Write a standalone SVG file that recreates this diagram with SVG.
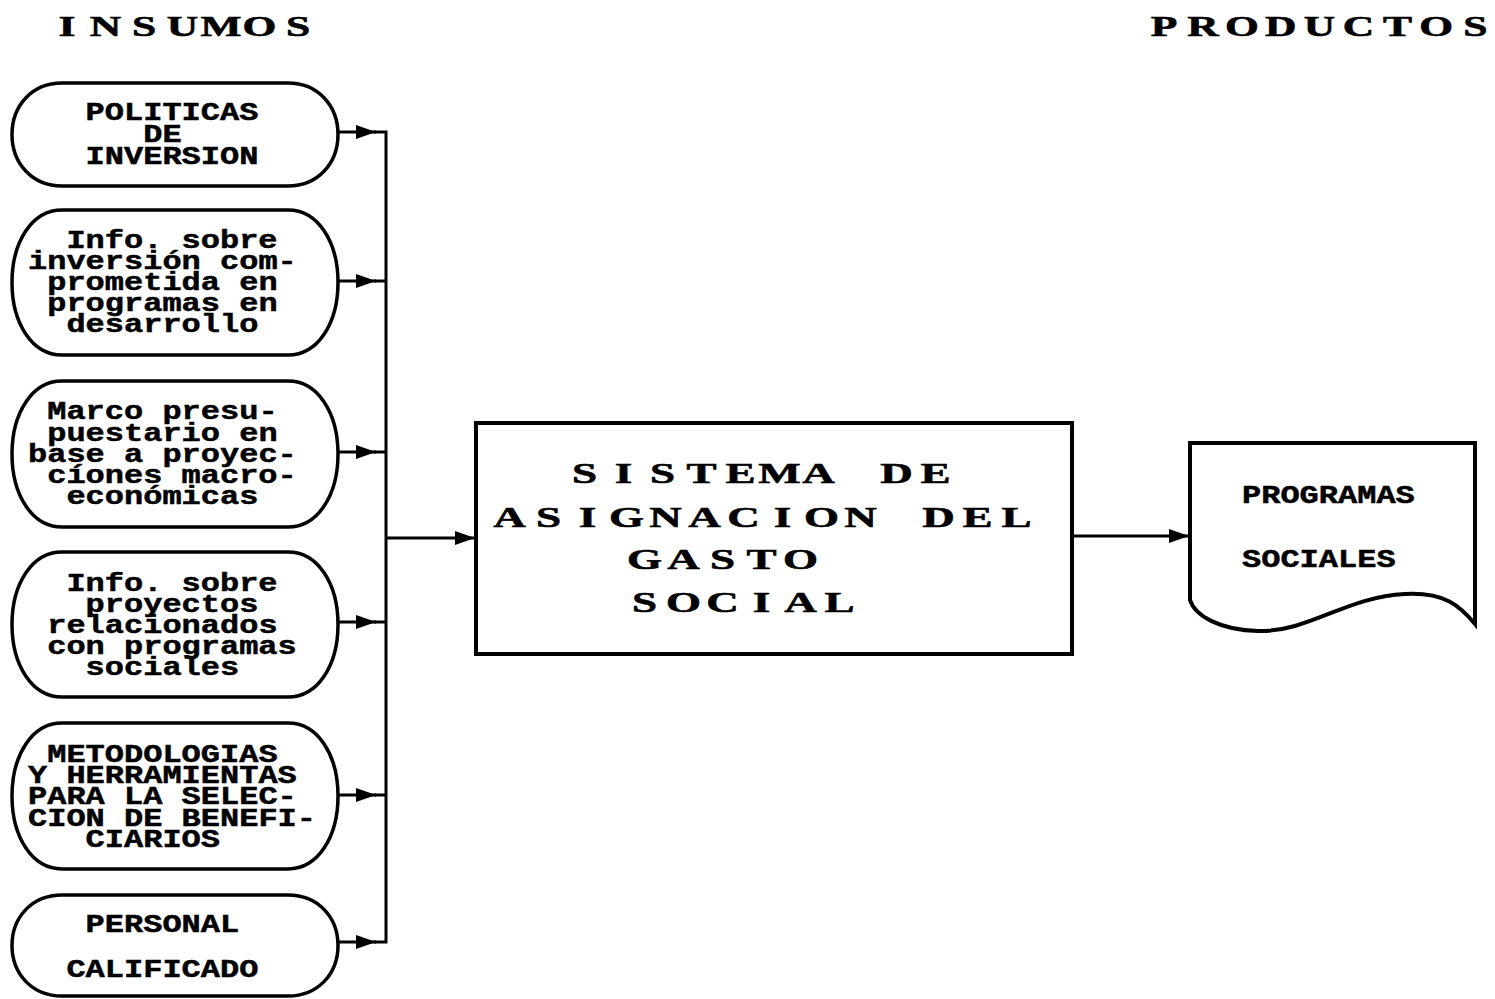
<svg xmlns="http://www.w3.org/2000/svg" width="1495" height="999" viewBox="0 0 1495 999">
<style>
.bg{fill:#fff}
.node{fill:#fff;stroke:#000;stroke-width:3.5;stroke-linejoin:round}
.box{fill:#fff;stroke:#000;stroke-width:4}
.t{font-family:"Liberation Mono","DejaVu Sans Mono",monospace;font-weight:bold;font-size:26px;fill:#000;stroke:#000;stroke-width:0.5}
.big{font-family:"Liberation Serif","DejaVu Serif",serif;font-weight:bold;font-size:30px;fill:#000;stroke:#000;stroke-width:0.6;text-anchor:middle}
.hdr{font-family:"Liberation Serif","DejaVu Serif",serif;font-weight:bold;font-size:29px;fill:#000;stroke:#000;stroke-width:0.6;text-anchor:middle}
.c{fill:none;stroke:#000;stroke-width:3}
</style>
<defs>
<marker id="ah" markerUnits="userSpaceOnUse" markerWidth="22" markerHeight="18" refX="20" refY="9" orient="auto">
<path d="M0,2 L20,9 L0,16 Z" fill="#000"/>
</marker>
</defs>
<rect class="bg" x="0" y="0" width="1495" height="999"/>

<g id="headers">
<text class="hdr" transform="scale(1.5,1)" x="44.7 70.3 96 121.7 147.3 173 198.7" y="36">INSUMOS</text>
<text class="hdr" transform="scale(1.5,1)" x="776 801.9 827.9 853.8 879.7 905.7 931.6 957.5 983.5" y="36">PRODUCTOS</text>
</g>

<g id="connectors">
<path class="c" d="M338,132 H376" marker-end="url(#ah)"/>
<path class="c" d="M338,281 H376" marker-end="url(#ah)"/>
<path class="c" d="M338,452 H376" marker-end="url(#ah)"/>
<path class="c" d="M338,622 H376" marker-end="url(#ah)"/>
<path class="c" d="M338,795 H376" marker-end="url(#ah)"/>
<path class="c" d="M338,942 H376" marker-end="url(#ah)"/>
<path class="c" d="M374,132 H386 V942 H374 M374,281 H386 M374,452 H386 M374,622 H386 M374,795 H386"/>
<path class="c" d="M386,538 H475" marker-end="url(#ah)"/>
<path class="c" d="M1072,536 H1189" marker-end="url(#ah)"/>
</g>

<g id="node1">
<path class="node" d="M62,83 H288 C318,83 338,105.7 338,134.5 C338,163.3 318,186 288,186 H62 C32,186 12,163.3 12,134.5 C12,105.7 32,83 62,83 Z"/>
<text class="t" x="85.6" y="120" textLength="172.8" lengthAdjust="spacingAndGlyphs">POLITICAS</text>
<text class="t" x="143.2" y="142" textLength="38.4" lengthAdjust="spacingAndGlyphs">DE</text>
<text class="t" x="85.6" y="164" textLength="172.8" lengthAdjust="spacingAndGlyphs">INVERSION</text>
</g>

<g id="node2">
<path class="node" d="M62,210 H288 C318,210 338,241.9 338,282.5 C338,323.1 318,355 288,355 H62 C32,355 12,323.1 12,282.5 C12,241.9 32,210 62,210 Z"/>
<text class="t" x="66.4" y="248" textLength="211.2" lengthAdjust="spacingAndGlyphs">Info. sobre</text>
<text class="t" x="28" y="269" textLength="268.8" lengthAdjust="spacingAndGlyphs">inversión com-</text>
<text class="t" x="47.2" y="290" textLength="230.4" lengthAdjust="spacingAndGlyphs">prometida en</text>
<text class="t" x="47.2" y="311" textLength="230.4" lengthAdjust="spacingAndGlyphs">programas en</text>
<text class="t" x="66.4" y="332" textLength="192" lengthAdjust="spacingAndGlyphs">desarrollo</text>
</g>

<g id="node3">
<path class="node" d="M62,381 H288 C318,381 338,413.1 338,454 C338,494.9 318,527 288,527 H62 C32,527 12,494.9 12,454 C12,413.1 32,381 62,381 Z"/>
<text class="t" x="47.2" y="419" textLength="230.4" lengthAdjust="spacingAndGlyphs">Marco presu-</text>
<text class="t" x="47.2" y="441" textLength="230.4" lengthAdjust="spacingAndGlyphs">puestario en</text>
<text class="t" x="28" y="462" textLength="268.8" lengthAdjust="spacingAndGlyphs">base a proyec-</text>
<text class="t" x="47.2" y="483" textLength="249.6" lengthAdjust="spacingAndGlyphs">cíones macro-</text>
<text class="t" x="66.4" y="504" textLength="192" lengthAdjust="spacingAndGlyphs">económicas</text>
</g>

<g id="node4">
<path class="node" d="M62,552 H288 C318,552 338,583.9 338,624.5 C338,665.1 318,697 288,697 H62 C32,697 12,665.1 12,624.5 C12,583.9 32,552 62,552 Z"/>
<text class="t" x="66.4" y="591" textLength="211.2" lengthAdjust="spacingAndGlyphs">Info. sobre</text>
<text class="t" x="85.6" y="612" textLength="172.8" lengthAdjust="spacingAndGlyphs">proyectos</text>
<text class="t" x="47.2" y="633" textLength="230.4" lengthAdjust="spacingAndGlyphs">relacionados</text>
<text class="t" x="47.2" y="654" textLength="249.6" lengthAdjust="spacingAndGlyphs">con programas</text>
<text class="t" x="85.6" y="675" textLength="153.6" lengthAdjust="spacingAndGlyphs">sociales</text>
</g>

<g id="node5">
<path class="node" d="M62,723 H288 C318,723 338,755.1 338,796 C338,836.9 318,869 288,869 H62 C32,869 12,836.9 12,796 C12,755.1 32,723 62,723 Z"/>
<text class="t" x="47.2" y="762" textLength="230.4" lengthAdjust="spacingAndGlyphs">METODOLOGIAS</text>
<text class="t" x="28" y="783" textLength="268.8" lengthAdjust="spacingAndGlyphs">Y HERRAMIENTAS</text>
<text class="t" x="28" y="804" textLength="268.8" lengthAdjust="spacingAndGlyphs">PARA LA SELEC-</text>
<text class="t" x="28" y="826" textLength="288" lengthAdjust="spacingAndGlyphs">CION DE BENEFI-</text>
<text class="t" x="85.6" y="847" textLength="134.4" lengthAdjust="spacingAndGlyphs">CIARIOS</text>
</g>

<g id="node6">
<path class="node" d="M62,895 H288 C318,895 338,917.2 338,945.5 C338,973.8 318,996 288,996 H62 C32,996 12,973.8 12,945.5 C12,917.2 32,895 62,895 Z"/>
<text class="t" x="85.6" y="932" textLength="153.6" lengthAdjust="spacingAndGlyphs">PERSONAL</text>
<text class="t" x="66.4" y="977" textLength="192" lengthAdjust="spacingAndGlyphs">CALIFICADO</text>
</g>

<g id="main">
<rect class="box" x="476" y="423" width="596" height="231"/>
<text class="big" transform="scale(1.5,1)" x="389.7 415.7 441.7 467.7 493.7 519.7 545.7 571.7 597.7 623.7" y="483">SISTEMA DE</text>
<text class="big" transform="scale(1.5,1)" x="339.7 365.7 391.7 417.7 443.7 469.7 495.7 521.7 547.7 573.7 599.7 625.7 651.7 677.7" y="527">ASIGNACION DEL</text>
<text class="big" transform="scale(1.5,1)" x="429.7 455.7 481.7 507.7 533.7" y="569">GASTO</text>
<text class="big" transform="scale(1.5,1)" x="429.7 455.7 481.7 507.7 533.7 559.7" y="612">SOCIAL</text>
</g>

<g id="output">
<path class="box" d="M1190,443 H1475 V624 C1460,606 1445,592 1405,594 C1345,597 1310,632 1258,631 C1220,630 1195,616 1190,600 Z"/>
<text class="t" x="1242" y="503" textLength="172.8" lengthAdjust="spacingAndGlyphs">PROGRAMAS</text>
<text class="t" x="1242" y="567" textLength="153.6" lengthAdjust="spacingAndGlyphs">SOCIALES</text>
</g>
</svg>
